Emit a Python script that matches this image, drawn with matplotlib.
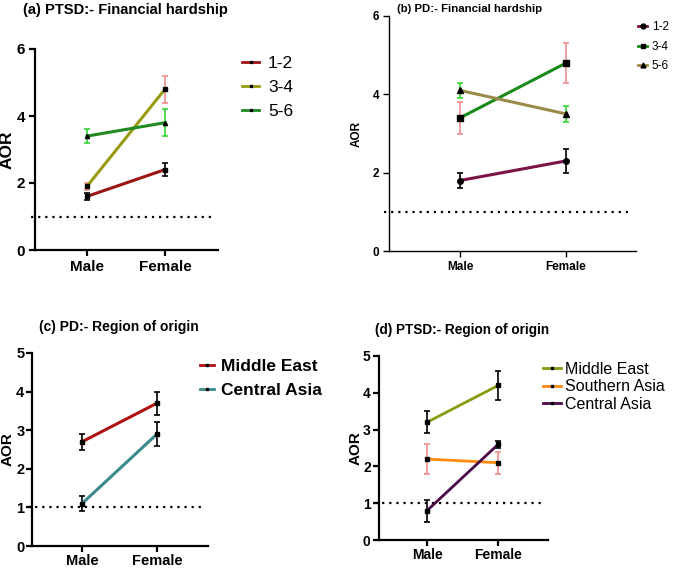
import numpy as np
import matplotlib
matplotlib.use("Agg")
import matplotlib.pyplot as plt
from matplotlib.lines import Line2D

plt.rcParams['font.family'] = ['Liberation Sans', 'DejaVu Sans']

sexes = ["Male", "Female"]

# (a) PTSD - financial hardship
a_labels = ["1-2", "3-4", "5-6"]
a_aor = [[1.6, 2.4], [1.9, 4.8], [3.4, 3.8]]
a_lo = [[1.5, 2.2], [1.8, 4.4], [3.2, 3.4]]
a_hi = [[1.7, 2.6], [2.0, 5.2], [3.6, 4.2]]

# (b) PD - financial hardship
b_labels = ["1-2", "3-4", "5-6"]
b_aor = [[1.8, 2.3], [3.4, 4.8], [4.1, 3.5]]
b_lo = [[1.6, 2.0], [3.0, 4.3], [3.9, 3.3]]
b_hi = [[2.0, 2.6], [3.8, 5.3], [4.3, 3.7]]

# (c) PD - region of origin
c_labels = ["Middle East", "Central Asia"]
c_aor = [[2.7, 3.7], [1.1, 2.9]]
c_lo = [[2.5, 3.4], [0.9, 2.6]]
c_hi = [[2.9, 4.0], [1.3, 3.2]]

# (d) PTSD - region of origin
d_labels = ["Middle East", "Southern Asia", "Central Asia"]
d_aor = [[3.2, 4.2], [2.2, 2.1], [0.8, 2.6]]
d_lo = [[2.9, 3.8], [1.8, 1.8], [0.5, 2.5]]
d_hi = [[3.5, 4.6], [2.6, 2.4], [1.1, 2.7]]

W, H = 673, 568
fig = plt.figure(figsize=(W / 100, H / 100), dpi=100)


def px_axes(left, right, top, bottom):
    return fig.add_axes([left / W, 1 - bottom / H, (right - left) / W, (bottom - top) / H])


def draw_panel(ax, aor, lo, hi, line_cols, err_cols, markers, ms,
               ylim, yticks, xlim, tick_fs, spine_w, lw, pad=3):
    x = np.arange(len(sexes))
    for i in range(len(aor)):
        y = np.array(aor[i])
        yerr = [y - np.array(lo[i]), np.array(hi[i]) - y]
        ax.errorbar(x, y, yerr=yerr, fmt='none', ecolor=err_cols[i],
                    elinewidth=1.2, capsize=2, capthick=1.2, zorder=2)
        ax.plot(x, y, color=line_cols[i], lw=lw, zorder=3)
        ax.plot(x, y, ls='none', marker=markers[i], ms=ms, color='black', zorder=4)
    # reference line at AOR = 1
    ax.plot([xlim[0] - 0.05, xlim[1] - 0.05], [1, 1], ls=(0, (1, 2.2)), color='black',
            lw=1.6, clip_on=False, zorder=1)
    ax.set_xlim(*xlim)
    ax.set_ylim(*ylim)
    ax.set_yticks(yticks)
    ax.set_xticks(x)
    ax.set_xticklabels(sexes)
    for s in ['top', 'right']:
        ax.spines[s].set_visible(False)
    for s in ['left', 'bottom']:
        ax.spines[s].set_linewidth(spine_w)
    ax.tick_params(width=spine_w, length=4, labelsize=tick_fs, pad=pad)
    for t in ax.get_xticklabels() + ax.get_yticklabels():
        t.set_fontweight('bold')


def add_legend(ax, handles, labels, x, y, **kw):
    ax.legend(handles, labels, loc='upper left', bbox_to_anchor=(x / W, 1 - y / H),
              bbox_transform=fig.transFigure, frameon=False, borderpad=0,
              borderaxespad=0, **kw)


# ---- (a)
ax = px_axes(35, 218, 49, 250)
a_line = ['#9b1414', '#9a9a12', '#1f8a1f']
a_err = ['black', '#f28c8c', '#33d633']
draw_panel(ax, a_aor, a_lo, a_hi, a_line, a_err, ['s', 's', '^'], 3,
           (0, 6), [0, 2, 4, 6], (-0.667, 1.68), 11, 1.6, 2.2)
ax.set_ylabel("AOR", fontsize=12.5, fontweight='bold')
ax.yaxis.set_label_coords(-0.109, 0.5)
fig.text(23 / W, 1 - 10 / H, "(a) PTSD:- Financial hardship", fontsize=10.6,
         fontweight='bold', va='center')
handles = [Line2D([], [], color=c, lw=2, marker='s', ms=2, mfc='black', mec='black')
           for c in a_line]
add_legend(ax, handles, a_labels, 242, 56, fontsize=12.5,
           handlelength=1.0, handletextpad=0.5, labelspacing=0.5)

# ---- (b)
ax = px_axes(389, 636, 16, 251)
b_line = ['#7a1448', '#1a8a1a', '#9a8a4a']
b_err = ['black', '#f28c8c', '#33d633']
draw_panel(ax, b_aor, b_lo, b_hi, b_line, b_err, ['o', 's', '^'], 4,
           (0, 6), [0, 2, 4, 6], (-0.67, 1.66), 8.5, 1.0, 2.2)
ax.set_ylabel("AOR", fontsize=8.5, fontweight='bold')
ax.yaxis.set_label_coords(-0.105, 0.5)
fig.text(397 / W, 1 - 9 / H, "(b) PD:- Financial hardship", fontsize=8.2,
         fontweight='bold', va='center')
handles = [Line2D([], [], color=c, lw=2, marker=m, ms=3.5, mfc='black', mec='black')
           for c, m in zip(b_line, ['o', 's', '^'])]
add_legend(ax, handles, b_labels, 638, 21, fontsize=8.5,
           handlelength=0.8, handletextpad=0.35, labelspacing=0.65)

# ---- (c)
ax = px_axes(32, 208, 353, 546)
c_line = ['#b01010', '#3a8a8a']
c_err = ['black', 'black']
draw_panel(ax, c_aor, c_lo, c_hi, c_line, c_err, ['s', 's'], 2.5,
           (0, 5), [0, 1, 2, 3, 4, 5], (-0.667, 1.68), 10.5, 1.6, 2.2, pad=1.5)
ax.set_ylabel("AOR", fontsize=11, fontweight='bold')
ax.yaxis.set_label_coords(-0.097, 0.5)
fig.text(39 / W, 1 - 327 / H, "(c) PD:- Region of origin", fontsize=10,
         fontweight='bold', va='center')
handles = [Line2D([], [], color=c, lw=2, marker='s', ms=2, mfc='black', mec='black')
           for c in c_line]
add_legend(ax, handles, c_labels, 200, 359, prop={'size': 12.5, 'weight': 'bold'},
           handlelength=0.8, handletextpad=0.4, labelspacing=0.5)

# ---- (d)
ax = px_axes(379, 548, 356, 540)
d_line = ['#8a9a10', '#ff8a10', '#4a0a4a']
d_err = ['black', '#f28c8c', 'black']
draw_panel(ax, d_aor, d_lo, d_hi, d_line, d_err, ['s', 's', 's'], 2.5,
           (0, 5), [0, 1, 2, 3, 4, 5], (-0.676, 1.70), 10, 1.6, 2.0, pad=2)
ax.set_ylabel("AOR", fontsize=11, fontweight='bold')
ax.yaxis.set_label_coords(-0.095, 0.5)
fig.text(375 / W, 1 - 330 / H, "(d) PTSD:- Region of origin", fontsize=9.8,
         fontweight='bold', va='center')
handles = [Line2D([], [], color=c, lw=2, marker='s', ms=2, mfc='black', mec='black')
           for c in d_line]
add_legend(ax, handles, d_labels, 543, 362, fontsize=11.5,
           handlelength=1.1, handletextpad=0.3, labelspacing=0.15)

fig.savefig("out.png", dpi=100)
